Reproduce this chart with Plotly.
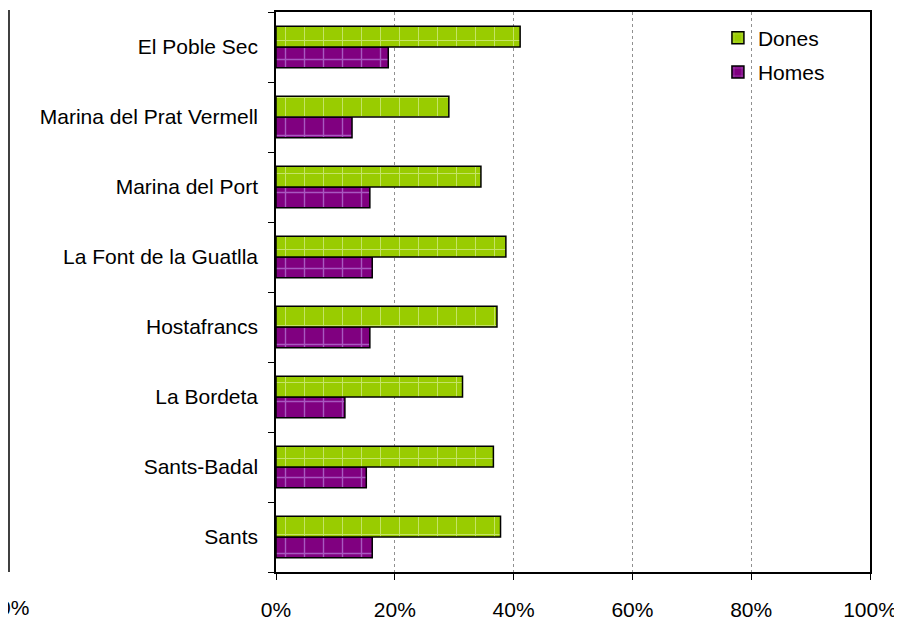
import plotly.graph_objects as go

categories = ["Sants", "Sants-Badal", "La Bordeta", "Hostafrancs",
              "La Font de la Guatlla", "Marina del Port",
              "Marina del Prat Vermell", "El Poble Sec"]
dones = [37.8, 36.6, 31.4, 37.2, 38.7, 34.5, 29.1, 41.1]
homes = [16.2, 15.2, 11.6, 15.8, 16.2, 15.8, 12.8, 18.9]
x_ticks = [0, 20, 40, 60, 80, 100]
x_tick_labels = ["0%", "20%", "40%", "60%", "80%", "100%"]

FONT = "Liberation Sans, Arial, sans-serif"

fig = go.Figure()
fig.add_trace(go.Bar(
    y=categories, x=homes, name="Homes", orientation="h",
    legendgroup="h", legendrank=2,
    marker=dict(color="#800080", line=dict(color="black", width=1.5),
                pattern=dict(shape="+", fgcolor="#D0B0FF", size=19, solidity=0.14)),
))
fig.add_trace(go.Bar(
    y=categories, x=dones, name="Dones", orientation="h",
    legendgroup="d", legendrank=1,
    marker=dict(color="#99CC00", line=dict(color="black", width=1.5),
                pattern=dict(shape="+", fgcolor="#F0FAD0", size=19, solidity=0.1)),
))

fig.update_layout(
    width=894, height=615,
    margin=dict(l=268, r=32, t=2, b=48),
    paper_bgcolor="white", plot_bgcolor="white",
    barmode="group", bargap=0.405, bargroupgap=0,
    font=dict(family=FONT, size=21, color="black"),
    showlegend=True,
    legend=dict(x=0.744, y=0.99, xanchor="left", yanchor="top",
                traceorder="grouped", font=dict(size=21),
                bgcolor="rgba(0,0,0,0)", itemwidth=30, tracegroupgap=4),
    xaxis=dict(range=[0, 100], tickvals=x_ticks, ticktext=x_tick_labels,
               showgrid=True, gridcolor="#909090", griddash="dot", gridwidth=1.2,
               showline=True, linecolor="black", linewidth=1.5, mirror=True,
               ticks="outside", ticklen=6, tickcolor="black",
               ticklabelstandoff=12, zeroline=False),
    yaxis=dict(showgrid=False, showline=True, linecolor="black", linewidth=1.5,
               mirror=True, ticks="outside", ticklen=6, tickcolor="black",
               tickson="boundaries", ticklabelstandoff=12),
)

# remnant of the neighbouring chart at the far left
fig.add_shape(type="line", xref="paper", yref="paper",
              x0=-0.4495, x1=-0.4495, y0=0, y1=1.0035,
              line=dict(color="black", width=1.5))
fig.add_annotation(xref="paper", yref="paper", x=-0.4125, y=-0.0637,
                   xanchor="right", yanchor="middle", text="0%",
                   showarrow=False, font=dict(size=21))

fig.write_html("out.html")
